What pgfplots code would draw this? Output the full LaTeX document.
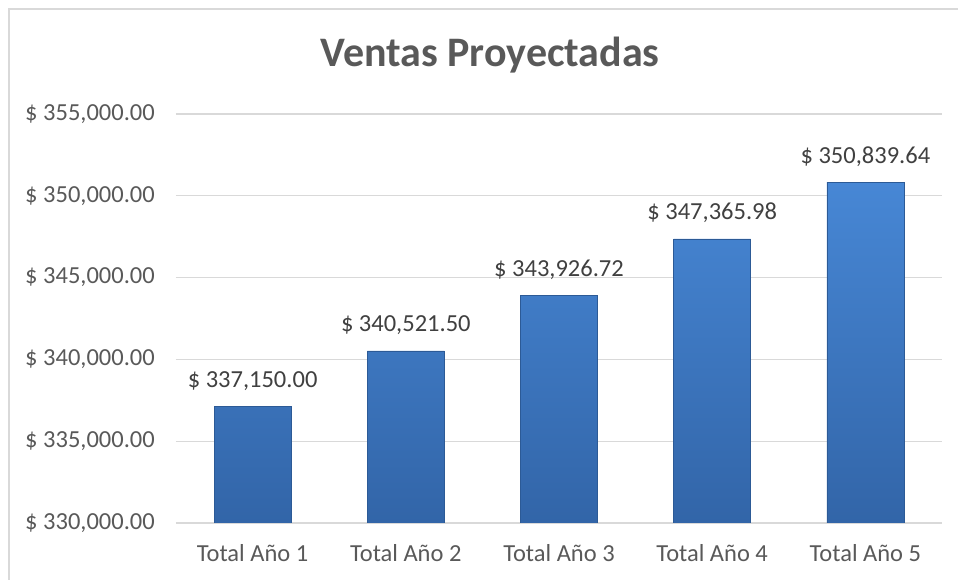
\documentclass[border=0pt]{standalone}
\usepackage{pgfplots}
\pgfplotsset{compat=1.18}
\usepackage{fontspec}
\setmainfont{Carlito}

\definecolor{txt}{HTML}{595959}
\definecolor{lbl}{HTML}{404040}
\definecolor{grd}{HTML}{D9D9D9}
\definecolor{bartop}{HTML}{4787D5}
\definecolor{barbot}{HTML}{3265A8}
\definecolor{baredge}{HTML}{2C5A96}

\begin{document}
\begin{tikzpicture}
\useasboundingbox (-176pt,-57pt) rectangle (782pt,523pt);
% chart frame (cut at right and bottom, as in the screenshot)
\draw[grd, line width=2pt] (-167pt,-57pt) -- (-167pt,514pt) -- (782pt,514pt);
\node[anchor=base, font=\fontsize{42}{50}\selectfont\bfseries, text=txt]
    at (314pt,456pt) {Ventas Proyectadas};

\begin{axis}[
    at={(0pt,0pt)}, anchor=south west,
    scale only axis,
    width=766pt, height=409pt,
    ybar, bar width=77pt,
    xmin=-0.5, xmax=4.5,
    ymin=330000, ymax=355000,
    enlarge x limits=false,
    xtick={0,1,2,3,4},
    xticklabels={Total Año 1,Total Año 2,Total Año 3,Total Año 4,Total Año 5},
    ytick={330000,335000,340000,345000,350000,355000},
    yticklabels={{\$ 330,000.00},{\$ 335,000.00},{\$ 340,000.00},{\$ 345,000.00},{\$ 350,000.00},{\$ 355,000.00}},
    scaled y ticks=false,
    axis line style={draw=none},
    major tick length=0pt,
    ymajorgrids=true,
    grid style={grd, line width=1.2pt},
    xticklabel style={font=\fontsize{24.5}{29}\selectfont, text=txt, anchor=base, yshift=-39pt, inner sep=0pt},
    yticklabel style={font=\fontsize{24.5}{29}\selectfont, text=txt, anchor=east, inner sep=0pt, xshift=-21pt},
    point meta=explicit symbolic,
    nodes near coords,
    every node near coord/.append style={font=\fontsize{24.5}{29}\selectfont, text=lbl, anchor=base, inner sep=0pt, yshift=19pt},
]
\addplot[top color=bartop, bottom color=barbot, draw=baredge, line width=0.6pt]
    coordinates {
    (0,337150.00)  [\$ 337,150.00]
    (1,340521.50)  [\$ 340,521.50]
    (2,343926.72)  [\$ 343,926.72]
    (3,347365.98)  [\$ 347,365.98]
    (4,350839.64)  [\$ 350,839.64]
    };
\end{axis}
\end{tikzpicture}
\end{document}
